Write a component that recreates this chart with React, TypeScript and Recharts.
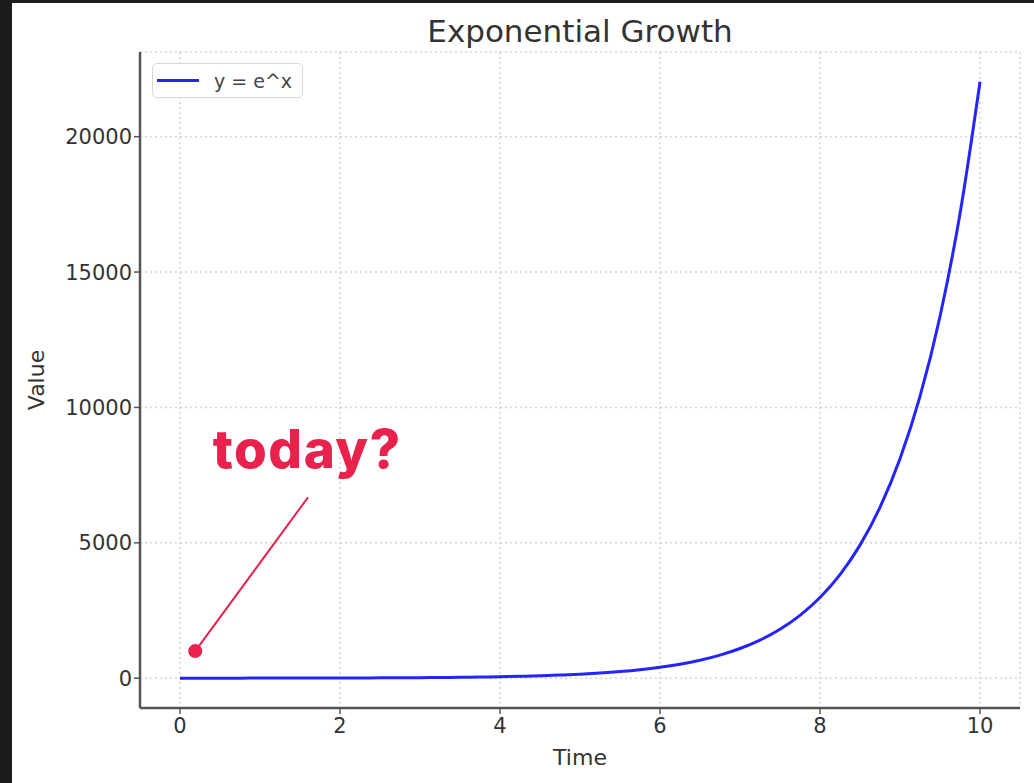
import {
    LineChart,
    Line,
    XAxis,
    YAxis,
    CartesianGrid,
    Legend,
    ReferenceDot,
    ReferenceLine,
} from 'recharts';

// time steps and the curve's values
const times = [
    0, 0.25, 0.5, 0.75, 1, 1.25, 1.5, 1.75, 2, 2.25, 2.5, 2.75, 3, 3.25, 3.5, 3.75, 4, 4.25, 4.5, 4.75,
    5, 5.25, 5.5, 5.75, 6, 6.25, 6.5, 6.75, 7, 7.25, 7.5, 7.75, 8, 8.25, 8.5, 8.75, 9, 9.25, 9.5, 9.75, 10,
];
const values = [
    1, 1.28, 1.65, 2.12, 2.72, 3.49, 4.48, 5.75, 7.39, 9.49, 12.2, 15.6, 20.1, 25.8, 33.1, 42.5, 54.6,
    70.1, 90, 116, 148, 191, 245, 314, 403, 518, 665, 854, 1097, 1408, 1808, 2322, 2981, 3828, 4915,
    6311, 8103, 10405, 13360, 17154, 22026,
];
const xTicks = [0, 2, 4, 6, 8, 10];
const yTicks = [0, 5000, 10000, 15000, 20000];

// annotation anchors (data coordinates)
const todayDot = { x: 0.19, y: 1000 };
const todayLineEnd = { x: 1.6, y: 6680 };
const todayText = { x: 0.41, y: 7770 };

const data = times.map((t, i) => ({ time: t, value: values[i] }));

const FONT = '"DejaVu Sans", sans-serif';
const RED = '#e8214d';
const BLUE = '#2424ff';

function LegendBox() {
    return (
        <div
            style={{
                boxSizing: 'border-box',
                width: 151,
                height: 35,
                border: '1.5px solid #d8d8d8',
                borderRadius: 5,
                background: '#fff',
                display: 'flex',
                alignItems: 'center',
                paddingLeft: 4,
            }}
        >
            <span style={{ display: 'inline-block', width: 42, height: 3, background: BLUE, marginRight: 15 }} />
            <span style={{ fontFamily: FONT, fontSize: 19, color: '#444' }}>y = e^x</span>
        </div>
    );
}

export default function App() {
    return (
        <div style={{ position: 'absolute', left: 0, top: 0, width: 1034, height: 783, background: '#1c1c1c' }}>
            <div style={{ position: 'absolute', left: 12, top: 3, width: 1022, height: 780, background: '#fff' }} />
            <div
                style={{
                    position: 'absolute',
                    left: 380,
                    top: 16,
                    width: 400,
                    textAlign: 'center',
                    fontFamily: FONT,
                    fontSize: 31,
                    lineHeight: '31px',
                    color: '#333',
                }}
            >
                Exponential Growth
            </div>
            <div style={{ position: 'absolute', left: 0, top: 0 }}>
                <LineChart width={1034} height={783} data={data} margin={{ top: 52, right: 14, left: 40, bottom: 35 }}>
                    <CartesianGrid stroke="#d4d4d4" strokeDasharray="2 3" strokeWidth={1.5} />
                    <XAxis
                        dataKey="time"
                        type="number"
                        domain={[-0.5, 10.5]}
                        ticks={xTicks}
                        allowDataOverflow
                        height={40}
                        tickSize={6}
                        tickMargin={4}
                        axisLine={{ stroke: '#555', strokeWidth: 2.5 }}
                        tickLine={{ stroke: '#555', strokeWidth: 1.5 }}
                        tick={{ fill: '#333', fontSize: 21, fontFamily: FONT }}
                        label={{
                            value: 'Time',
                            content: (p: any) => (
                                <text
                                    x={p.viewBox.x + p.viewBox.width / 2}
                                    y={765}
                                    textAnchor="middle"
                                    fill="#333"
                                    fontSize={22}
                                    fontFamily={FONT}
                                >
                                    Time
                                </text>
                            ),
                        }}
                    />
                    <YAxis
                        type="number"
                        domain={[-1101, 23127]}
                        ticks={yTicks}
                        allowDataOverflow
                        width={100}
                        tickSize={6}
                        axisLine={{ stroke: '#555', strokeWidth: 2.5 }}
                        tickLine={{ stroke: '#555', strokeWidth: 1.5 }}
                        tick={{ fill: '#333', fontSize: 21, fontFamily: FONT }}
                        label={{
                            value: 'Value',
                            content: (p: any) => (
                                <text
                                    transform={`translate(44, ${p.viewBox.y + p.viewBox.height / 2}) rotate(-90)`}
                                    textAnchor="middle"
                                    fill="#333"
                                    fontSize={22}
                                    fontFamily={FONT}
                                >
                                    Value
                                </text>
                            ),
                        }}
                    />
                    <Legend
                        layout="horizontal"
                        verticalAlign="middle"
                        align="center"
                        wrapperStyle={{ left: 152, top: 63, width: 'auto' }}
                        content={() => <LegendBox />}
                    />
                    <Line
                        type="monotone"
                        dataKey="value"
                        name="y = e^x"
                        stroke={BLUE}
                        strokeWidth={3}
                        dot={false}
                        isAnimationActive={false}
                    />
                    <ReferenceLine
                        segment={[todayDot, todayLineEnd]}
                        stroke={RED}
                        strokeWidth={2}
                        ifOverflow="visible"
                    />
                    <ReferenceDot x={todayDot.x} y={todayDot.y} r={7} fill={RED} stroke="none" />
                    <ReferenceDot
                        x={todayText.x}
                        y={todayText.y}
                        shape={(p: any) => (
                            <text
                                x={p.cx}
                                y={p.cy}
                                fill={RED}
                                fontSize={53}
                                fontWeight={800}
                                fontFamily="Inter, sans-serif"
                                letterSpacing={1.5}
                            >
                                today?
                            </text>
                        )}
                    />
                </LineChart>
            </div>
        </div>
    );
}
